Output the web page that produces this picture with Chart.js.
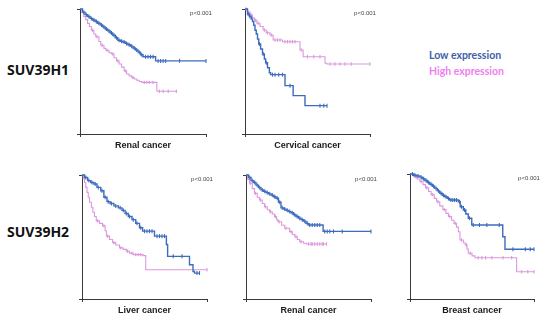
<!DOCTYPE html>
<html>
<head>
<meta charset="utf-8">
<script src="https://cdn.jsdelivr.net/npm/chart.js@4.4.1/dist/chart.umd.min.js"></script>
<style>
  html, body { margin: 0; padding: 0; background: #ffffff; }
  #wrap { position: relative; width: 550px; height: 320px; overflow: hidden; background: #fff; }
  canvas { position: absolute; }
  .t { position: absolute; white-space: nowrap; line-height: 1; transform: translate(-50%, -50%); }
  .row { position: absolute; white-space: nowrap; line-height: 1; transform: translate(0, -50%);
         font-family: 'Open Sans', sans-serif; font-weight: 700; font-size: 14px; color: #111; left: 7px; }
  .ttl { font-family: 'Liberation Sans', Arial, sans-serif; font-weight: 700; font-size: 9px; color: #1a1a1a; }
  .pv { font-family: 'Liberation Sans', Arial, sans-serif; font-size: 6px; color: #444; }
  .lg { position: absolute; white-space: nowrap; line-height: 1; transform: translate(0, -50%);
        font-family: 'Lato', sans-serif; font-weight: 700; font-size: 10.5px; left: 429px; }
</style>
</head>
<body>
<div id="wrap">
  <div class="row" style="top:70px">SUV39H1</div>
  <div class="row" style="top:232px">SUV39H2</div>
  <div class="lg" style="top:55px;color:#3f5ea6">Low expression</div>
  <div class="lg" style="top:71px;color:#f07ef0">High expression</div>
</div>
<script>
// ---- Data (time on 0-100 scale, survival probability 0-1) ----
// Renal cancer (SUV39H1)
const rc1LowT = [0,2,3,4,5,6,7,8,9,10,11,12,13,14,15,16,17,18,19,20,21,22,23,24,25,26,27,28,29,30,31,32,33,34,35,36,37,38,39,40,41,42,43,44,45,46,47,48,49,50,52,54,56,58,60,62,64,66,68,79,100];
const rc1LowS = [1,.975,.975,.955,.955,.94,.94,.925,.925,.912,.912,.9,.9,.886,.886,.873,.873,.857,.857,.84,.84,.825,.825,.808,.808,.79,.79,.77,.77,.75,.75,.742,.742,.736,.736,.725,.725,.714,.714,.703,.703,.688,.688,.672,.672,.655,.655,.634,.634,.618,.618,.618,.618,.618,.585,.585,.585,.585,.585,.585,.585];
const rc1HighT = [0,1.5,3,4.5,6,7.5,9,10,11,12.5,13.5,15,16.5,17.5,19,20.5,21.5,23,25,26,27,29,30,31,33,35,36,37,39,41,42,43,45,47,49,51,53,55,58,61,63,66,70,76.5];
const rc1HighS = [1,.97,.94,.915,.885,.86,.83,.83,.8,.778,.778,.74,.71,.71,.685,.67,.67,.65,.64,.64,.61,.585,.585,.56,.535,.505,.505,.48,.465,.452,.452,.44,.43,.42,.413,.413,.413,.413,.413,.342,.342,.342,.342,.342];
// Cervical cancer (SUV39H1)
const ccLowT = [0,2,2.5,3.5,4,5,6,7,8,9,10,11,11.5,12.5,14,14.5,15.5,16.5,17,18,19.5,20.5,22,24,27,30,32,36,38.5,48,60,63,65.6];
const ccLowS = [1,.96,.96,.94,.94,.92,.9,.87,.83,.8,.76,.72,.72,.68,.64,.64,.6,.57,.57,.53,.49,.475,.475,.475,.475,.475,.387,.387,.307,.227,.227,.227,.227];
const ccHighT = [0,1,2,3,4,5,6,7.5,8.5,9.5,10.5,12,14.5,15.5,17,18,20,21,22.5,24,26,28,30,32,34,36,38,40,44,45,46.5,50,55,60,64,65.5,68,72,76,80,85,100];
const ccHighS = [1,1,.975,.975,.952,.952,.93,.91,.91,.886,.886,.86,.832,.832,.81,.81,.792,.792,.752,.752,.752,.752,.738,.738,.738,.738,.738,.738,.672,.672,.618,.618,.618,.618,.566,.56,.56,.56,.56,.56,.56,.56];
// Liver cancer (SUV39H2)
const lcLowT = [0,2,3,4.5,5.5,7,8,9.5,10.5,12,13,15,16,17.5,18.5,20,21,22.5,23.5,25.5,27,29,30.5,32,33,34.5,35.5,37,38,40,41,43,44,46,47,48.5,50,52,54,56,58,60,62,64,66,67.5,68.5,73,80,86,88.8,90,92,94];
const lcLowS = [1,.98,.98,.955,.955,.94,.94,.927,.927,.9,.9,.873,.873,.82,.82,.785,.785,.77,.77,.751,.751,.735,.735,.715,.715,.69,.69,.665,.665,.64,.64,.61,.61,.575,.575,.547,.547,.547,.547,.547,.507,.507,.507,.507,.507,.44,.344,.344,.344,.276,.222,.209,.209,.209];
const lcHighT = [0,1,2,3,4,5,6,7.5,8.7,10,11.4,12.5,14,16.5,17.5,18.5,19.5,20.5,22,24.5,25.5,27,30,31,33,35.5,36.5,38,40,41,43,45,47,48.8,51,100];
const lcHighS = [1,.97,.94,.9,.86,.82,.78,.74,.7,.665,.63,.63,.61,.59,.59,.55,.507,.507,.48,.455,.455,.435,.412,.412,.4,.385,.385,.37,.37,.358,.358,.358,.358,.35,.236,.236];
// Renal cancer (SUV39H2)
const rc2LowT = [0,2,3,4,5,6,7,8,9,10,11,12,13,14,15,16,17,18,19,20,21,22,23,24,25,26,27,28,29,30,31,32,33,34,35,36,37,38,39,40,41,42,43,44,45,46,47,48,49,50,51,53,55,57,59,61.7,63,65,67,70,77,100];
const rc2LowS = [1,.98,.98,.955,.955,.94,.94,.918,.918,.898,.898,.88,.88,.868,.868,.858,.858,.848,.848,.838,.838,.825,.825,.812,.812,.78,.78,.735,.735,.725,.725,.715,.715,.705,.705,.695,.695,.68,.68,.665,.665,.652,.652,.64,.64,.628,.628,.61,.61,.597,.597,.597,.597,.597,.597,.545,.545,.545,.545,.545,.545,.545];
const rc2HighT = [0,1.4,2.8,3.5,5,6.8,7.5,9,10.8,11.5,13,14.9,15.5,17,18.9,19.5,21,22.9,23.5,24.5,25.5,26.5,28.5,31,32,34.9,36,37,39,40,41,43,44,46,48.4,50,52,53,55,57,59,61,62,64.4];
const rc2HighS = [1,.965,.933,.933,.89,.852,.852,.82,.798,.798,.77,.744,.744,.72,.704,.704,.685,.664,.664,.64,.623,.623,.595,.57,.57,.543,.543,.52,.502,.502,.48,.462,.462,.45,.444,.444,.444,.444,.444,.444,.444,.444,.444,.444];
// Breast cancer (SUV39H2)
const bcLowT = [0,2,3,4,5.5,6.5,8,9,10,11,12,13,14,15,16,17,18,19,20,21,22,23,24,25,26,27,28,29,30,31,32,33,34.5,36,37.5,39,40,40.5,41.5,43,44,45,47,48,49.8,51,56,62,72,74.8,76.6,83,93,97,100];
const bcLowS = [1,1,.99,.99,.984,.984,.975,.975,.962,.962,.948,.948,.932,.932,.918,.918,.902,.902,.885,.885,.865,.865,.846,.846,.83,.83,.818,.818,.805,.805,.792,.792,.792,.792,.792,.778,.778,.738,.738,.712,.712,.68,.646,.646,.592,.592,.592,.592,.592,.498,.398,.398,.398,.398,.398];
const bcHighT = [0,2,3,4,5,6,8,9,10.5,12.5,13.5,15,17,18,19.5,21.5,22.5,24,26.5,27.5,29,31,32,33.5,35.5,36.5,37.5,39,40.3,41.5,43,44.5,45.5,46,47,48.5,50,52.4,55,58,61,66,75,82,86,90,95,100];
const bcHighS = [1,.99,.99,.975,.975,.96,.94,.94,.915,.89,.89,.86,.835,.835,.805,.778,.778,.745,.715,.715,.685,.66,.66,.63,.605,.605,.575,.538,.472,.472,.45,.432,.432,.4,.366,.366,.345,.33,.33,.33,.33,.33,.33,.33,.218,.218,.218,.218];

const panelTitles = ['Renal cancer', 'Cervical cancer', 'Liver cancer', 'Renal cancer', 'Breast cancer'];
const pValueLabel = 'p<0.001';

// ---- Layout ----
const BLUE = '#3c6cbd', PINK = '#dc98dc';
const panels = [
  { box: [80, 9, 206, 134],  low: [rc1LowT, rc1LowS], high: [rc1HighT, rc1HighS] },
  { box: [245, 9, 370, 134], low: [ccLowT, ccLowS],   high: [ccHighT, ccHighS] },
  { box: [82, 175, 207, 299], low: [lcLowT, lcLowS],  high: [lcHighT, lcHighS] },
  { box: [246, 175, 371, 299], low: [rc2LowT, rc2LowS], high: [rc2HighT, rc2HighS] },
  { box: [410, 174, 534, 299], low: [bcLowT, bcLowS], high: [bcHighT, bcHighS] }
];

const wrap = document.getElementById('wrap');
const M = 10, TL = 3;

function toXY(t, s) { return t.map((v, i) => ({ x: v, y: s[i] })); }
function curve(pair, color, width, tick, label) {
  const s = pair[1];
  return {
    label: label,
    data: toXY(pair[0], pair[1]),
    stepped: true,
    borderColor: color,
    borderWidth: width,
    pointStyle: 'line',
    rotation: 90,
    pointRadius: c => (c.dataIndex > 0 && s[c.dataIndex] === s[c.dataIndex - 1]) ? tick : 0,
    pointHoverRadius: 0,
    pointBorderColor: color,
    pointBorderWidth: 1.1,
    clip: false
  };
}

panels.forEach((p, k) => {
  const [L, T, R, B] = p.box;
  const cv = document.createElement('canvas');
  const w = (R - L) + 2 * M, h = (B - T) + 2 * M;
  cv.width = w; cv.height = h;
  cv.style.left = (L - M) + 'px'; cv.style.top = (T - M) + 'px';
  cv.style.width = w + 'px'; cv.style.height = h + 'px';
  wrap.appendChild(cv);

  const axisCommon = {
    type: 'linear',
    ticks: { display: false },
    grid: { drawOnChartArea: false, drawTicks: true, tickLength: TL, color: '#3a3a3a' },
    border: { display: true, color: '#3a3a3a', width: 1 }
  };
  new Chart(cv, {
    type: 'line',
    data: { datasets: [curve(p.low, BLUE, 1.4, 2, 'Low expression'), curve(p.high, PINK, 1.1, 1.7, 'High expression')] },
    options: {
      responsive: false, animation: false, devicePixelRatio: 1,
      layout: { padding: { left: M - TL, right: M, top: M, bottom: M - TL } },
      plugins: { legend: { display: false }, tooltip: { enabled: false } },
      scales: {
        x: Object.assign({}, axisCommon, { min: 0, max: 100, ticks: { display: false, stepSize: 100 } }),
        y: Object.assign({}, axisCommon, { min: 0, max: 1, ticks: { display: false, stepSize: 1 } })
      }
    }
  });

  const tt = document.createElement('div');
  tt.className = 't ttl';
  tt.textContent = panelTitles[k];
  tt.style.left = ((L + R) / 2) + 'px';
  tt.style.top = (k < 2 ? 145 : 310) + 'px';
  wrap.appendChild(tt);

  const pv = document.createElement('div');
  pv.className = 't pv';
  pv.textContent = pValueLabel;
  pv.style.left = (R - 5) + 'px';
  pv.style.top = (T + 3.5) + 'px';
  wrap.appendChild(pv);
});
</script>
</body>
</html>
